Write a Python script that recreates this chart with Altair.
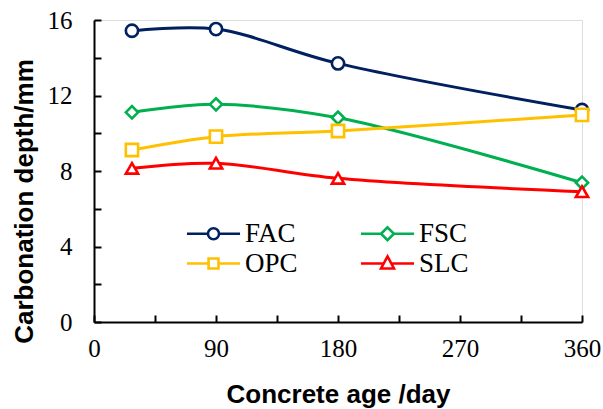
import altair as alt
import pandas as pd

# ---- data ----
ages = [28, 90, 180, 360]
series_names = ["FAC", "FSC", "OPC", "SLC"]
legend_order = ["FAC", "OPC", "FSC", "SLC"]
fac = [15.43, 15.52, 13.70, 11.23]
fsc = [11.11, 11.53, 10.82, 7.38]
opc = [9.11, 9.82, 10.12, 10.97]
slc = [8.14, 8.41, 7.61, 6.90]
x_ticks = [0, 90, 180, 270, 360]
x_minor = [0, 45, 90, 135, 180, 225, 270, 315, 360]
y_ticks = [0, 4, 8, 12, 16]
y_minor = [0, 2, 4, 6, 8, 10, 12, 14, 16]

colors = ["#002060", "#00B050", "#FFC000", "#FF0000"]
shapes = ["circle", "diamond", "square", "triangle-up"]
# legend symbols: line segment with the marker in the middle (unit = 15 px)
legend_shapes = [
    "M-1.77,0H-0.37M0.37,0H1.77M0.37,0A0.37,0.37 0 1,1 -0.37,0A0.37,0.37 0 1,1 0.37,0Z",
    "M-1.77,0H-0.43M0.43,0H1.77M0,-0.43L0.43,0L0,0.43L-0.43,0Z",
    "M-1.77,0H-0.33M0.33,0H1.77M-0.33,-0.33H0.33V0.33H-0.33Z",
    "M-1.77,0H-0.25M0.25,0H1.77M0,-0.47L0.43,0.33H-0.43Z",
]

rows = []
for name, vals in zip(series_names, [fac, fsc, opc, slc]):
    for a, v in zip(ages, vals):
        rows.append({"age": a, "depth": v, "series": name})
df = pd.DataFrame(rows)

W, H = 488, 302
serif = "Liberation Serif, Times New Roman, DejaVu Serif, serif"
sans = "Liberation Sans, Arial, sans-serif"

xscale = alt.Scale(domain=[0, 360], nice=False)
yscale = alt.Scale(domain=[0, 16], nice=False)

x_main = alt.X("age:Q", scale=xscale, axis=alt.Axis(
    values=x_ticks, title="Concrete age /day", grid=False, ticks=False, tickSize=0,
    domainColor="black", domainWidth=2, labelFont=serif, labelFontSize=25,
    labelColor="black", labelPadding=14, labelFlush=False, labelOverlap=False,
    titleFont=sans, titleFontSize=26,
    titleFontWeight="bold", titleColor="black", titleY=80,
    titleBaseline="alphabetic"))
y_main = alt.Y("depth:Q", scale=yscale, axis=alt.Axis(
    values=y_ticks, title="Carbonation depth/mm", grid=False, ticks=False, tickSize=0,
    domainColor="black", domainWidth=2, labelFont=serif, labelFontSize=25,
    labelColor="black", labelPadding=22, labelFlush=False, labelOverlap=False,
    titleFont=sans, titleFontSize=26,
    titleFontWeight="bold", titleColor="black", titleX=-70, titleY=181,
    titleBaseline="middle", titleAlign="center", titleAngle=-90))

color_nolegend = alt.Color("series:N", scale=alt.Scale(domain=series_names, range=colors), legend=None)

lines = alt.Chart(df).mark_line(interpolate="catmull-rom", strokeWidth=3).encode(
    x=x_main, y=y_main, color=color_nolegend, detail="series:N")

points = alt.Chart(df).mark_point(size=150, strokeWidth=2.6, fill="white", fillOpacity=1, opacity=1).encode(
    x=alt.X("age:Q", scale=xscale, axis=alt.Axis(
        orient="top", offset=-H, values=x_minor, labels=False, domain=False, grid=False,
        tickSize=7, tickWidth=2, tickColor="black", title=None)),
    y=alt.Y("depth:Q", scale=yscale, axis=alt.Axis(
        orient="right", offset=-W, values=y_minor, labels=False, domain=False, grid=False,
        tickSize=7, tickWidth=2, tickColor="black", title=None)),
    color=color_nolegend,
    shape=alt.Shape("series:N", scale=alt.Scale(domain=series_names, range=shapes), legend=None),
)

leg = dict(title=None, orient="none", legendX=103, legendY=197, values=legend_order,
           columns=2, columnPadding=57, rowPadding=0,
           symbolSize=900, symbolStrokeWidth=2.6, symbolFillColor="white",
           labelFont=serif, labelFontSize=27, labelColor="black", labelOffset=15)

legend_layer = alt.Chart(df).transform_filter("false").mark_point(
    size=900, strokeWidth=2.6, fill="white", fillOpacity=1, opacity=1).encode(
    x=alt.X("age:Q", scale=xscale, axis=None),
    y=alt.Y("depth:Q", scale=yscale, axis=None),
    color=alt.Color("series:N", scale=alt.Scale(domain=series_names, range=colors),
                    legend=alt.Legend(**leg)),
    shape=alt.Shape("series:N", scale=alt.Scale(domain=series_names, range=legend_shapes),
                    legend=alt.Legend(**leg)),
)

chart = alt.layer(lines, points, legend_layer).resolve_scale(
    color="independent", shape="independent"
).resolve_axis(x="independent", y="independent").properties(
    width=W, height=H,
    autosize=alt.AutoSizeParams(type="none"),
    padding={"left": 94, "top": 20, "right": 21, "bottom": 87},
).configure_view(stroke=None).configure(background="white")

chart.save("out.html", embed_options={"renderer": "svg", "actions": False})
